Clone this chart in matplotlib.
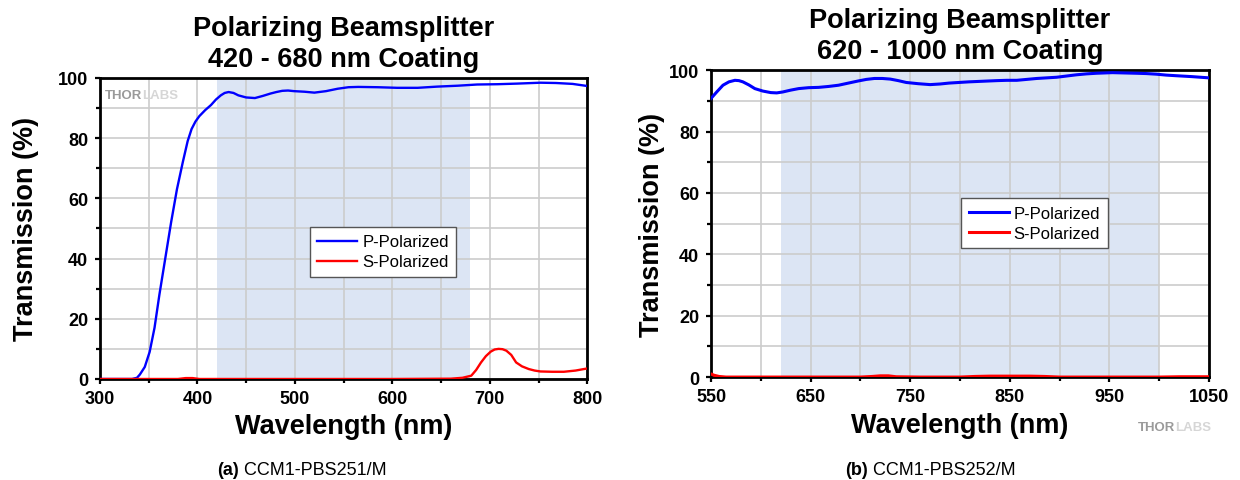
import matplotlib.pyplot as plt
from matplotlib.ticker import MultipleLocator

plt.rcParams['font.family'] = ['Liberation Sans', 'DejaVu Sans']

# ---------------- Datos: 420 - 680 nm ----------------
wl_a_p = [300, 320, 333, 338, 341, 346, 351, 356, 361, 367, 373, 379, 385, 390, 394, 398, 402, 408,
          414, 419, 424, 428, 432, 437, 442, 450, 459, 467, 475, 481, 487, 493, 499, 510, 520, 532,
          544, 555, 565, 585, 605, 626, 646, 667, 687, 708, 728, 752, 768, 785, 800]
t_a_p = [0.0, 0.0, 0.0, 0.4, 1.5, 4.0, 9.0, 17.0, 28.0, 40.0, 52.0, 63.0, 72.0, 79.0, 83.0, 85.5, 87.3, 89.3,
         91.0, 92.8, 94.2, 95.0, 95.3, 95.0, 94.2, 93.5, 93.3, 94.0, 94.8, 95.3, 95.7, 95.8, 95.6, 95.4, 95.1, 95.6,
         96.4, 96.9, 97.0, 96.9, 96.7, 96.7, 97.1, 97.4, 97.8, 97.9, 98.1, 98.4, 98.3, 98.0, 97.3]

wl_a_s = [300, 380, 388, 395, 402, 500, 600, 660, 672, 681, 686, 691, 696, 701, 705, 709, 713, 717,
          722, 727, 733, 740, 746, 752, 764, 776, 788, 800]
t_a_s = [0.0, 0.0, 0.3, 0.3, 0.0, 0.0, 0.0, 0.1, 0.4, 1.1, 3.0, 5.5, 7.6, 9.1, 9.8, 10.0, 9.9, 9.4,
         8.0, 5.5, 4.2, 3.3, 2.8, 2.5, 2.4, 2.4, 2.8, 3.5]

# ---------------- Datos: 620 - 1000 nm ----------------
wl_b_p = [550, 556, 562, 568, 574, 578, 582, 588, 594, 602, 610, 616, 622, 630, 638, 648, 658, 668,
          678, 688, 698, 706, 714, 722, 730, 738, 746, 758, 770, 780, 789, 799, 809, 823, 837, 847,
          857, 867, 877, 887, 897, 907, 917, 927, 937, 945, 953, 965, 977, 987, 997, 1007, 1017,
          1033, 1050]
t_b_p = [90.8, 93.0, 95.1, 96.2, 96.7, 96.6, 96.2, 95.2, 94.0, 93.2, 92.7, 92.6, 92.9, 93.5, 94.0, 94.3, 94.4, 94.7,
         95.1, 95.8, 96.5, 97.0, 97.3, 97.3, 97.1, 96.6, 96.0, 95.6, 95.3, 95.5, 95.8, 96.0, 96.2, 96.4, 96.6, 96.7,
         96.7, 97.0, 97.3, 97.5, 97.7, 98.1, 98.5, 98.8, 99.0, 99.1, 99.2, 99.1, 99.0, 98.9, 98.7, 98.4, 98.2,
         97.9, 97.5]

wl_b_s = [550, 553, 558, 565, 600, 700, 712, 720, 728, 736, 760, 800, 815, 830, 850, 870, 885, 900,
          950, 1000, 1020, 1035, 1050]
t_b_s = [1.0, 0.6, 0.2, 0.0, 0.0, 0.0, 0.2, 0.4, 0.4, 0.1, 0.0, 0.0, 0.2, 0.3, 0.3, 0.3, 0.2, 0.0,
         0.0, 0.0, 0.1, 0.1, 0.1]

ticks_a = [300, 400, 500, 600, 700, 800]
ticks_b = [550, 650, 750, 850, 950, 1050]

BLUE = "#0000ff"
RED = "#ff0000"
SHADE = "#dce5f4"
GRID = "#cccccc"


def estilo_ejes(ax, x0, x1, ticks, ylab_x, xlab_y):
    """Formato común de los dos gráficos."""
    ax.set_xlim(x0, x1)
    ax.set_ylim(0, 100)
    ax.set_xticks(ticks)
    ax.xaxis.set_minor_locator(MultipleLocator(50))
    ax.yaxis.set_major_locator(MultipleLocator(20))
    ax.yaxis.set_minor_locator(MultipleLocator(10))
    ax.grid(True, which="both", color=GRID, linewidth=1.2, zorder=0)
    ax.set_axisbelow(True)
    for s in ax.spines.values():
        s.set_linewidth(2.0)
        s.set_color("black")
    ax.tick_params(which="major", direction="out", length=3.5, width=1.6,
                   labelsize=13)
    ax.tick_params(axis="x", which="major", pad=4.5)
    ax.tick_params(axis="y", which="major", pad=5)
    ax.tick_params(which="minor", direction="out", length=3, width=1.6)
    for lbl in ax.get_xticklabels() + ax.get_yticklabels():
        lbl.set_fontweight("bold")
    ax.set_xlabel("Wavelength (nm)", fontsize=19.5, fontweight="bold")
    ax.set_ylabel("Transmission (%)", fontsize=19.5, fontweight="bold")
    ax.yaxis.set_label_coords(ylab_x, 0.5)
    ax.xaxis.set_label_coords(0.5, xlab_y)


def leyenda(ax, bbox):
    leg = ax.legend(loc="upper left", bbox_to_anchor=bbox, fontsize=12,
                    fancybox=False, framealpha=1, edgecolor="#555555",
                    handlelength=2.4, handletextpad=0.3, borderpad=0.45,
                    labelspacing=0.3, borderaxespad=0)
    leg.get_frame().set_linewidth(1.0)


def marca(ax, x, y):
    t1 = ax.text(x, y, "THOR", transform=ax.transAxes, fontsize=9.5,
                 fontweight="bold", color="#9a9a9a", ha="left", va="center")
    ax.annotate("LABS", xycoords=t1, xy=(1, 0.5), va="center", fontsize=9.5,
                fontweight="bold", color="#d6d6d6")


def pie(x, letra, texto):
    t1 = fig.text(x, 0.013, letra, fontsize=13, fontweight="bold", ha="left")
    plt.annotate(" " + texto, xycoords=t1, xy=(1, 0), va="bottom",
                 fontsize=13, annotation_clip=False)


fig = plt.figure(figsize=(12.4, 4.81), dpi=100)

# ---------------- (a) ----------------
ax1 = fig.add_axes([0.0806, 0.210, 0.393, 0.626])
ax1.axvspan(420, 680, color=SHADE, zorder=0.5, linewidth=0)
ax1.plot(wl_a_p, t_a_p, color=BLUE, lw=1.7, label="P-Polarized", zorder=3)
ax1.plot(wl_a_s, t_a_s, color=RED, lw=1.7, label="S-Polarized", zorder=3)
estilo_ejes(ax1, 300, 800, ticks_a, -0.125, -0.112)
ax1.set_title("Polarizing Beamsplitter\n420 - 680 nm Coating", fontsize=19.5,
              fontweight="bold", pad=8.5, linespacing=1.25)
leyenda(ax1, (0.431, 0.505))
marca(ax1, 0.01, 0.943)

# ---------------- (b) ----------------
ax2 = fig.add_axes([0.5734, 0.214, 0.4016, 0.638])
ax2.axvspan(620, 1000, color=SHADE, zorder=0.5, linewidth=0)
ax2.plot(wl_b_p, t_b_p, color=BLUE, lw=2.2, label="P-Polarized", zorder=3)
ax2.plot(wl_b_s, t_b_s, color=RED, lw=2.2, label="S-Polarized", zorder=3)
estilo_ejes(ax2, 550, 1050, ticks_b, -0.093, -0.113)
ax2.set_title("Polarizing Beamsplitter\n620 - 1000 nm Coating", fontsize=19.5,
              fontweight="bold", pad=8.5, linespacing=1.25)
leyenda(ax2, (0.502, 0.583))
marca(ax2, 0.857, -0.163)

# ---------------- Pies de figura ----------------
pie(217 / 1240, "(a)", "CCM1-PBS251/M")
pie(845 / 1240, "(b)", "CCM1-PBS252/M")

fig.savefig("out.png", dpi=100)
